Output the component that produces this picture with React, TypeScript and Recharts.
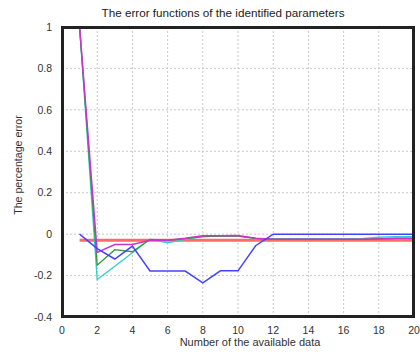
import React from 'react';
import { LineChart, Line, XAxis, YAxis, CartesianGrid } from 'recharts';

const xValues = [1, 2, 3, 4, 5, 6, 7, 8, 9, 10, 11, 12, 13, 14, 15, 16, 17, 18, 19, 20];
const blueSeries = [0, -0.07, -0.12, -0.058, -0.178, -0.178, -0.178, -0.235, -0.177, -0.177, -0.056, 0, 0, 0, 0, 0, 0, 0, 0, 0];
const redSeries = [-0.03, -0.03, -0.03, -0.03, -0.03, -0.03, -0.03, -0.03, -0.03, -0.03, -0.03, -0.03, -0.03, -0.03, -0.03, -0.03, -0.03, -0.03, -0.03, -0.03];
const magentaSeries = [1, -0.088, -0.05, -0.05, -0.03, -0.03, -0.02, -0.008, -0.008, -0.006, -0.02, -0.025, -0.025, -0.025, -0.025, -0.025, -0.025, -0.023, -0.02, -0.02];
const greenSeries = [1, -0.15, -0.075, -0.085, -0.025, -0.03, -0.022, -0.012, -0.01, -0.01, -0.02, -0.025, -0.025, -0.025, -0.025, -0.025, -0.025, -0.022, -0.02, -0.02];
const cyanSeries = [1, -0.219, -0.155, -0.09, -0.025, -0.042, -0.025, -0.012, -0.01, -0.01, -0.02, -0.022, -0.022, -0.022, -0.022, -0.022, -0.022, -0.015, -0.012, -0.012];
const xTicks = [0, 2, 4, 6, 8, 10, 12, 14, 16, 18, 20];
const yTicks = [-0.4, -0.2, 0, 0.2, 0.4, 0.6, 0.8, 1];

const data = xValues.map((x, i) => ({
  x,
  blue: blueSeries[i],
  red: redSeries[i],
  magenta: magentaSeries[i],
  green: greenSeries[i],
  cyan: cyanSeries[i],
}));

const fmtY = (v: number) => (v === 0 ? '0' : String(Math.round(v * 10) / 10));
const tickStyle = { fontFamily: 'Arial, "Liberation Sans", sans-serif', fontSize: 10.5, fill: '#333' };
const textFont = 'Arial, "Liberation Sans", sans-serif';

export default function App() {
  return (
    <div style={{ position: 'absolute', left: 0, top: 0, width: 420, height: 352, background: '#fff' }}>
      <div style={{ position: 'absolute', left: 0, top: 6, width: 446, textAlign: 'center', fontFamily: textFont, fontSize: 11.7, color: '#222' }}>
        The error functions of the identified parameters
      </div>
      <div style={{ position: 'absolute', left: 0, top: 336, width: 500, textAlign: 'center', fontFamily: textFont, fontSize: 11, color: '#333' }}>
        Number of the available data
      </div>
      <div style={{ position: 'absolute', left: 18, top: 166, width: 0, height: 0 }}>
        <div style={{ position: 'absolute', left: -60, top: -7, width: 120, textAlign: 'center', transform: 'rotate(-90deg)', fontFamily: textFont, fontSize: 10.6, color: '#333', whiteSpace: 'nowrap' }}>
          The percentage error
        </div>
      </div>
      <div style={{ position: 'absolute', left: 0, top: 0 }}>
        <LineChart width={420} height={352} data={data} margin={{ top: 27, right: 6, bottom: 5, left: 22 }}>
          <CartesianGrid stroke="#c8c8c8" strokeDasharray="2 2" />
          <XAxis
            dataKey="x"
            type="number"
            domain={[0, 20]}
            ticks={xTicks}
            interval={0}
            height={30}
            tick={tickStyle}
            tickLine={false}
            axisLine={false}
            tickMargin={4}
          />
          <YAxis
            type="number"
            domain={[-0.4, 1]}
            ticks={yTicks}
            interval={0}
            width={40}
            tick={tickStyle}
            tickFormatter={fmtY}
            tickLine={false}
            axisLine={false}
            tickMargin={4}
            allowDataOverflow
          />
          <Line type="linear" dataKey="red" stroke="#ff6a6a" strokeWidth={3} dot={false} isAnimationActive={false} />
          <Line type="linear" dataKey="cyan" stroke="#33cccc" strokeWidth={1.3} dot={false} isAnimationActive={false} />
          <Line type="linear" dataKey="green" stroke="#2e9a3a" strokeWidth={1.3} dot={false} isAnimationActive={false} />
          <Line type="linear" dataKey="magenta" stroke="#cc33cc" strokeWidth={1.5} dot={false} isAnimationActive={false} />
          <Line type="linear" dataKey="blue" stroke="#4444ff" strokeWidth={1.5} dot={false} isAnimationActive={false} />
        </LineChart>
      </div>
      <div style={{ position: 'absolute', left: 61, top: 26, width: 354, height: 292, border: '3px solid #222', boxSizing: 'border-box', pointerEvents: 'none', zIndex: 5 }} />
    </div>
  );
}
